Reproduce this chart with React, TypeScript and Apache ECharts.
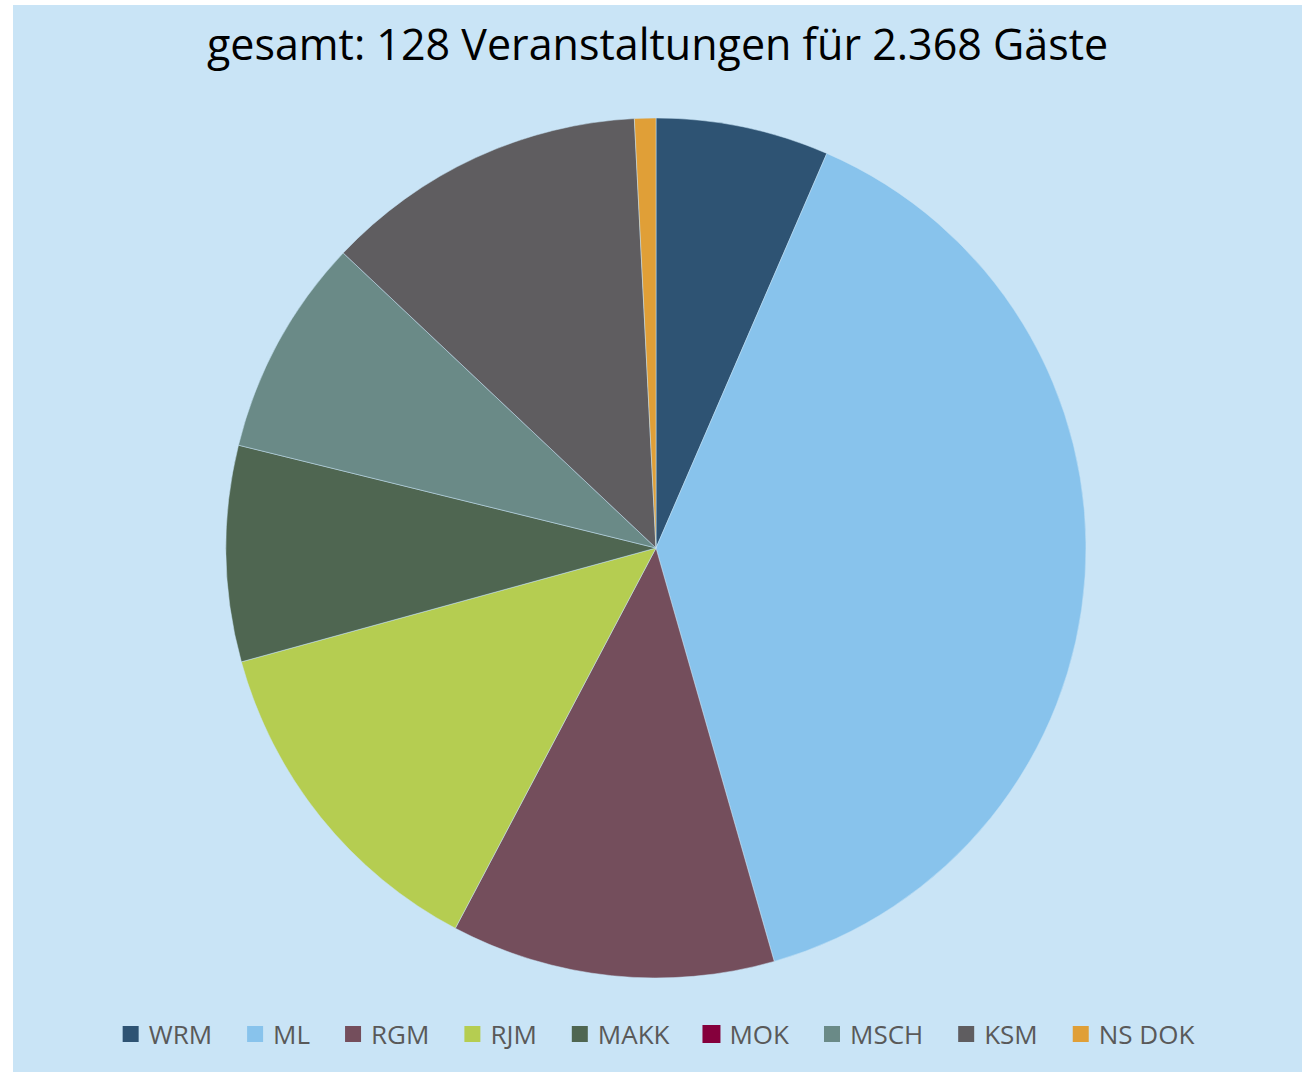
import React, { useEffect, useRef } from "react";
import * as echarts from "echarts";

const TITLE = "gesamt: 128 Veranstaltungen für 2.368 Gäste";
const categories = ["WRM", "ML", "RGM", "RJM", "MAKK", "MOK", "MSCH", "KSM", "NS DOK"];
const guests = [154, 925, 288, 308, 192, 0, 194, 288, 19];
const colors = ["#2E5373", "#88C3EC", "#744E5C", "#B5CD51", "#4F6651", "#85003C", "#6A8A87", "#5F5D60", "#E09F37"];

export default function App() {
  const ref = useRef<HTMLDivElement>(null);
  useEffect(() => {
    if (!ref.current) return;
    const chart = echarts.init(ref.current, undefined, { renderer: "svg" });
    chart.setOption({
      animation: false,
      backgroundColor: "#C9E4F6",
      title: {
        text: TITLE,
        left: "center",
        top: 12,
        textStyle: { fontFamily: "Open Sans", fontSize: 43, fontWeight: "normal", color: "#000000" },
      },
      legend: {
        data: categories,
        top: 1011,
        left: "center",
        icon: "rect",
        itemWidth: 18,
        itemHeight: 18,
        itemGap: 33,
        textStyle: { fontFamily: "Open Sans", fontSize: 26, color: "#595959", padding: [0, 0, 0, 4] },
      },
      series: [
        {
          type: "pie",
          center: [643, 543],
          radius: 430,
          startAngle: 90,
          clockwise: true,
          label: { show: false },
          labelLine: { show: false },
          emphasis: { disabled: true },
          itemStyle: { borderColor: "#C9E4F6", borderWidth: 0.5 },
          data: categories.map((name, i) => ({
            name,
            value: guests[i],
            itemStyle: { color: colors[i], borderWidth: guests[i] === 0 ? 0 : 0.5 },
          })),
        },
      ],
    });
    return () => chart.dispose();
  }, []);
  return (
    <div
      ref={ref}
      style={{ position: "fixed", left: 13, top: 5, width: 1289, height: 1067 }}
    />
  );
}
